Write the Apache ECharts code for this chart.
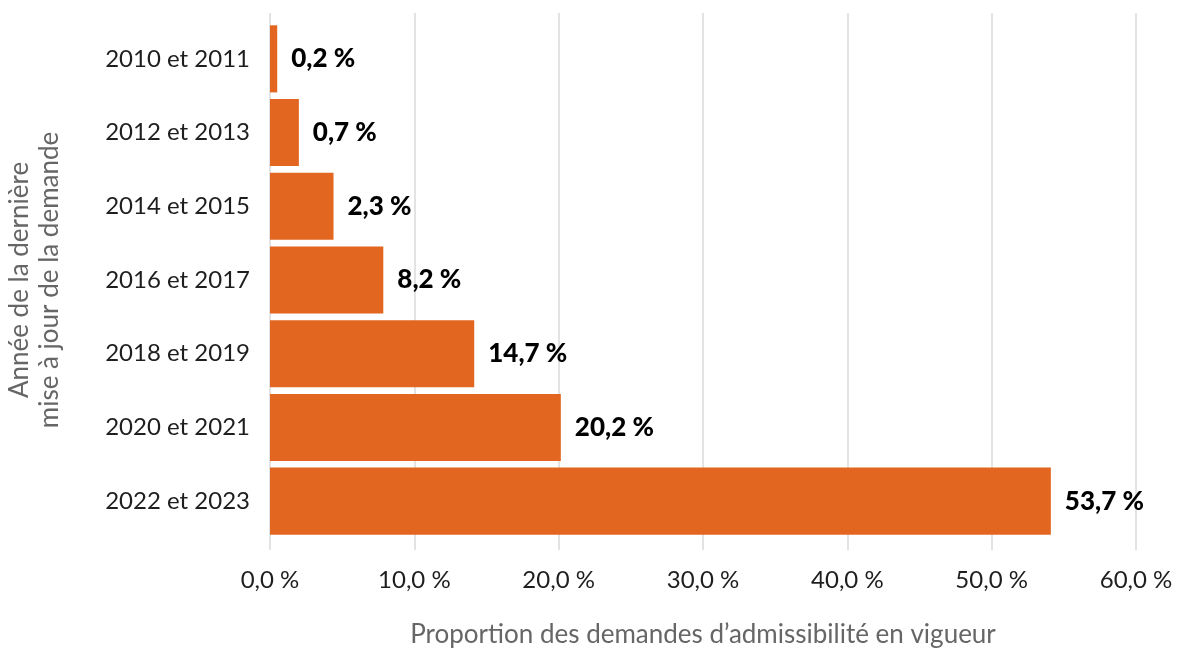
<!DOCTYPE html>
<html>
<head>
<meta charset="utf-8">
<script src="https://cdn.jsdelivr.net/npm/echarts@6/dist/echarts.min.js"></script>
<style>
  html, body { margin: 0; padding: 0; background: #fff; }
  #chart { width: 1177px; height: 650px; }
</style>
</head>
<body>
<div id="chart"></div>
<script>
// categories, top to bottom
var periods = ['2010 et 2011', '2012 et 2013', '2014 et 2015', '2016 et 2017', '2018 et 2019', '2020 et 2021', '2022 et 2023'];
// bar lengths as drawn in the picture (%)
var barLengths = [0.5, 2.0, 4.4, 7.85, 14.15, 20.15, 54.1];
// printed labels (%)
var shares = [0.2, 0.7, 2.3, 8.2, 14.7, 20.2, 53.7];
var xTicks = [0, 10, 20, 30, 40, 50, 60];

var font = 'Lato, sans-serif';

function pct(v, d) {
  return v.toFixed(d).replace('.', ',') + ' %';
}

var chart = echarts.init(document.getElementById('chart'));

var option = {
  animation: false,
  textStyle: { fontFamily: font },
  grid: [
    // grid only for the vertical gridlines + tick labels
    { left: 270, right: 41, top: 13, bottom: 100, outerBoundsMode: 'none' },
    // grid for bars
    { left: 270, right: 41, top: 22, bottom: 112, outerBoundsMode: 'none' }
  ],
  xAxis: [
    {
      gridIndex: 0,
      type: 'value',
      min: xTicks[0],
      max: xTicks[xTicks.length - 1],
      interval: 10,
      axisLine: { show: false },
      axisTick: { show: false },
      splitLine: { show: true, lineStyle: { color: '#e3e3e3', width: 2 } },
      axisLabel: {
        margin: 18,
        fontSize: 24,
        color: '#1e1e1e',
        fontFamily: font,
        formatter: function (v) { return pct(v, 1); }
      },
      name: 'Proportion des demandes d\u2019admissibilité en vigueur',
      nameLocation: 'middle',
      nameGap: 72,
      nameTextStyle: { fontSize: 26, color: '#666', fontFamily: font }
    },
    {
      gridIndex: 1,
      type: 'value',
      min: xTicks[0],
      max: xTicks[xTicks.length - 1],
      show: false
    }
  ],
  yAxis: [
    {
      gridIndex: 0,
      type: 'category',
      data: periods,
      show: false
    },
    {
      gridIndex: 1,
      type: 'category',
      data: periods,
      inverse: true,
      axisLine: { show: false },
      axisTick: { show: false },
      axisLabel: { margin: 20, fontSize: 24, color: '#1e1e1e', fontFamily: font },
      name: 'Année de la dernière\nmise à jour de la demande',
      nameLocation: 'middle',
      nameGap: 205,
      nameTextStyle: { fontSize: 26, color: '#666', lineHeight: 30, fontFamily: font }
    }
  ],
  series: [
    {
      type: 'bar',
      xAxisIndex: 1,
      yAxisIndex: 1,
      data: barLengths,
      barCategoryGap: '9%',
      itemStyle: { color: '#e2661f' },
      label: {
        show: true,
        position: 'right',
        distance: 14,
        fontSize: 26,
        fontWeight: 900,
        color: '#000',
        fontFamily: font,
        formatter: function (p) { return pct(shares[p.dataIndex], 1); }
      }
    }
  ]
};

chart.setOption(option);
window.addEventListener('resize', function () {
  chart.resize();
});
</script>
</body>
</html>
